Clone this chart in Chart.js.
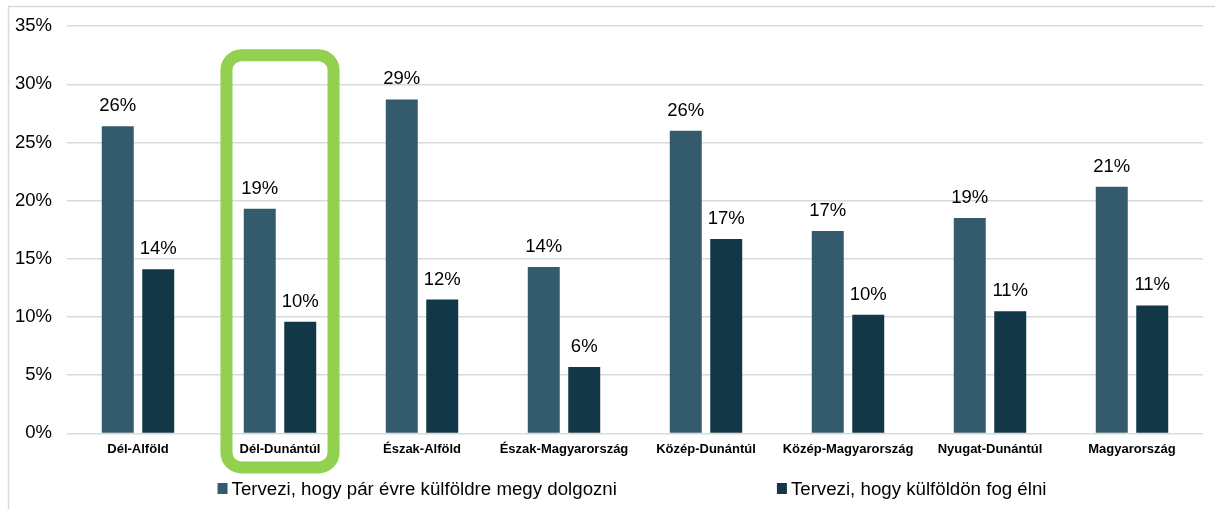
<!DOCTYPE html>
<html>
<head>
<meta charset="utf-8">
<script src="https://cdn.jsdelivr.net/npm/chart.js@4/dist/chart.umd.min.js"></script>
<style>
  html, body { margin: 0; padding: 0; background: #fff; }
  #wrap { width: 1215px; height: 509px; position: relative; }
</style>
</head>
<body>
<div id="wrap"><canvas id="mainChart"></canvas></div>
<script>
const regions = ['Dél-Alföld', 'Dél-Dunántúl', 'Észak-Alföld', 'Észak-Magyarország',
  'Közép-Dunántúl', 'Közép-Magyarország', 'Nyugat-Dunántúl', 'Magyarország'];
const dolgozni = [26.4, 19.3, 28.7, 14.3, 26.0, 17.4, 18.5, 21.2];
const elni = [14.1, 9.6, 11.5, 5.7, 16.7, 10.2, 10.5, 11.0];
const seriesNames = ['Tervezi, hogy pár évre külföldre megy dolgozni', 'Tervezi, hogy külföldön fog élni'];
const seriesColors = ['#345b6d', '#123746'];
const yTicks = [0, 5, 10, 15, 20, 25, 30, 35];
const highlightIndex = 1;

const font = "'Liberation Sans', Arial, sans-serif";

// keret a diagram körül
const framePlugin = {
  id: 'frame',
  beforeDraw(chart) {
    const c = chart.ctx;
    c.save();
    c.strokeStyle = '#d9d9d9';
    c.lineWidth = 1.5;
    c.strokeRect(8.5, 6.5, chart.width + 10, chart.height + 10);
    c.restore();
  }
};

// értékcímkék az oszlopok fölött
const valueLabels = {
  id: 'valueLabels',
  afterDatasetsDraw(chart) {
    const c = chart.ctx;
    c.save();
    c.font = '18.5px ' + font;
    c.fillStyle = '#000';
    c.textAlign = 'center';
    c.textBaseline = 'alphabetic';
    chart.data.datasets.forEach((ds, i) => {
      chart.getDatasetMeta(i).data.forEach((bar, j) => {
        c.fillText(Math.round(ds.data[j]) + '%', bar.x, bar.y - 15);
      });
    });
    c.restore();
  }
};

// zöld kiemelés + saját jelmagyarázat
const highlight = {
  id: 'highlight',
  afterDraw(chart) {
    const x = chart.scales.x, y = chart.scales.y;
    const cw = x.width / regions.length;
    const cx = x.getPixelForValue(highlightIndex);
    const left = cx - cw * 0.377, right = cx + cw * 0.377;
    const top = y.getPixelForValue(32.5), bottom = chart.chartArea.bottom + 34;
    const c = chart.ctx;
    c.save();
    c.strokeStyle = '#92d050';
    c.lineWidth = 12;
    c.beginPath();
    c.roundRect(left, top, right - left, bottom - top, 15);
    c.stroke();

    // jelmagyarázat
    c.font = '18.7px ' + font;
    c.textBaseline = 'middle';
    c.textAlign = 'left';
    const gap = 160, box = 10, tgap = 4;
    const widths = seriesNames.map(s => c.measureText(s).width);
    const total = widths[0] + widths[1] + 2 * (box + tgap) + gap;
    let lx = (chart.chartArea.left + chart.chartArea.right) / 2 - total / 2 - 3;
    const ly = 489;
    seriesNames.forEach((s, i) => {
      c.fillStyle = seriesColors[i];
      c.fillRect(lx, ly - 6, box, 11);
      c.fillStyle = '#000';
      c.fillText(s, lx + box + tgap, ly + 1);
      lx += box + tgap + widths[i] + gap;
    });
    c.restore();
  }
};

new Chart(document.getElementById('mainChart'), {
  type: 'bar',
  data: {
    labels: regions,
    datasets: [{
      label: seriesNames[0],
      data: dolgozni,
      backgroundColor: seriesColors[0],
      borderWidth: 0,
      categoryPercentage: 0.57,
      barPercentage: 0.79
    }, {
      label: seriesNames[1],
      data: elni,
      backgroundColor: seriesColors[1],
      borderWidth: 0,
      categoryPercentage: 0.57,
      barPercentage: 0.79
    }]
  },
  options: {
    responsive: true,
    maintainAspectRatio: false,
    animation: false,
    layout: { padding: { top: 24, right: 12, left: 0, bottom: 44 } },
    plugins: {
      legend: { display: false },
      tooltip: { enabled: false }
    },
    scales: {
      y: {
        min: 0, max: 35,
        afterFit(s) { s.width = 67; },
        afterBuildTicks(s) { s.ticks = yTicks.map(v => ({ value: v })); },
        grid: { color: '#d9d9d9', lineWidth: 1.5, drawTicks: false },
        border: { display: false },
        ticks: { padding: 15, color: '#000', font: { family: font, size: 18.5 }, callback: v => v + '%' }
      },
      x: {
        grid: { display: false, drawTicks: false },
        border: { display: false },
        ticks: { padding: 8, color: '#000', maxRotation: 0, autoSkip: false, font: { family: font, size: 13, weight: 'bold' } }
      }
    }
  },
  plugins: [framePlugin, valueLabels, highlight]
});
</script>
</body>
</html>
